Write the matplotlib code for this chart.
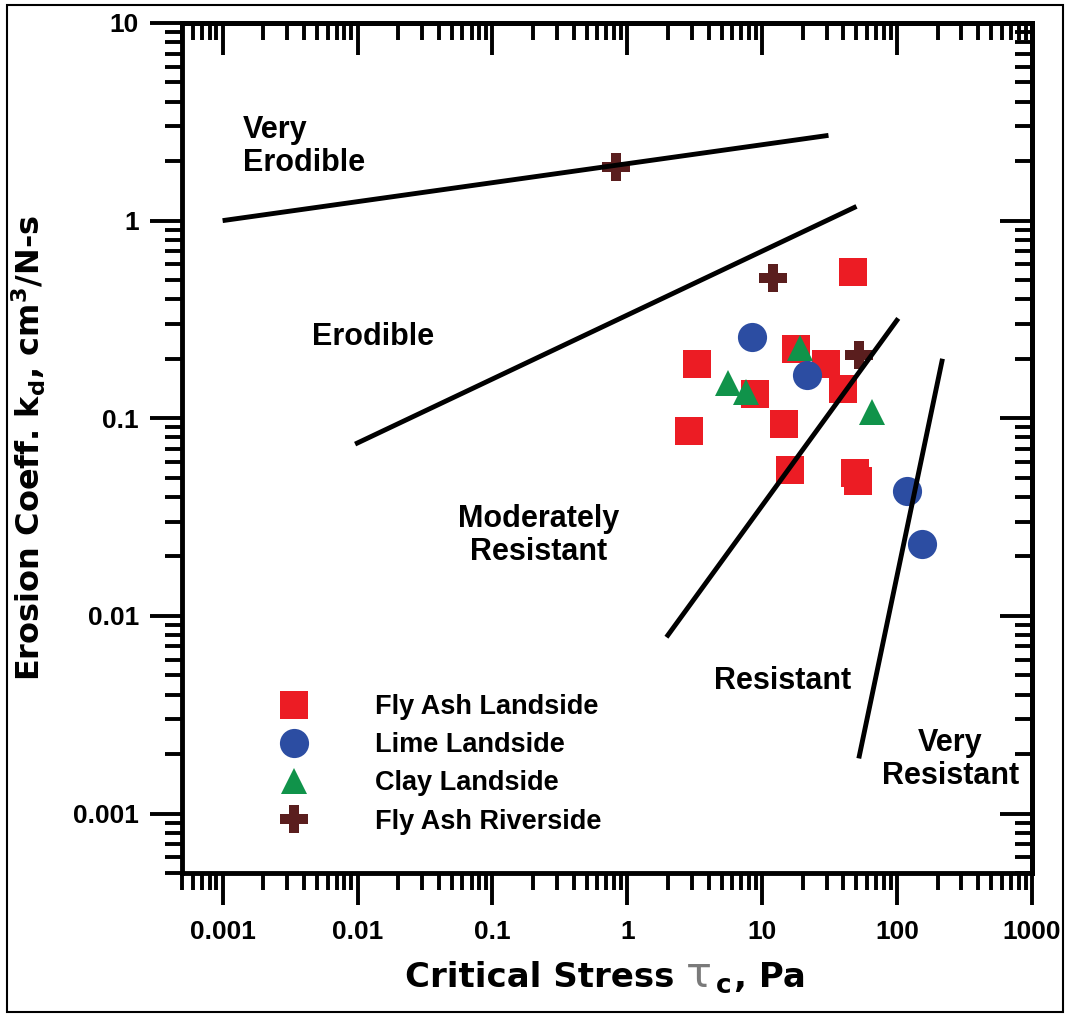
import numpy as np
import matplotlib
matplotlib.use("Agg")
import matplotlib.pyplot as plt
from matplotlib.ticker import LogLocator, NullFormatter
from matplotlib.patches import Rectangle

plt.rcParams['font.family'] = ['Liberation Sans', 'DejaVu Sans']
plt.rcParams['font.weight'] = 'bold'
plt.rcParams['mathtext.fontset'] = 'custom'
plt.rcParams['mathtext.rm'] = 'DejaVu Sans:bold'
plt.rcParams['mathtext.bf'] = 'DejaVu Sans:bold'
plt.rcParams['mathtext.it'] = 'DejaVu Sans:bold:italic'

# ---------------- data ----------------
fly_ash_land_tau = [47.5, 3.31, 17.9, 29.9, 39.4, 8.9, 14.6, 2.88, 16.2, 49.1, 51.7]
fly_ash_land_kd = [0.548, 0.189, 0.223, 0.189, 0.141, 0.132, 0.093, 0.0866, 0.055, 0.053, 0.0483]

lime_land_tau = [8.46, 21.6, 117.5, 154]
lime_land_kd = [0.257, 0.165, 0.043, 0.0232]

clay_land_tau = [19.2, 5.61, 7.63, 64.6]
clay_land_kd = [0.2256, 0.150, 0.135, 0.108]

fly_ash_river_tau = [0.83, 12.1, 52.6]
fly_ash_river_kd = [1.87, 0.511, 0.208]

# erodibility class boundaries (start, end)
boundary_tau = [[0.001, 31], [0.0096, 50], [1.95, 102], [52, 217]]
boundary_kd = [[1.0, 2.7], [0.074, 1.18], [0.0078, 0.32], [0.0019, 0.2]]

series_labels = ["Fly Ash Landside", "Lime Landside", "Clay Landside", "Fly Ash Riverside"]

x_ticks = [0.001, 0.01, 0.1, 1, 10, 100, 1000]
x_tick_labels = ["0.001", "0.01", "0.1", "1", "10", "100", "1000"]
y_ticks = [0.001, 0.01, 0.1, 1, 10]
y_tick_labels = ["0.001", "0.01", "0.1", "1", "10"]

# ---------------- figure ----------------
W, H = 1066, 1017
fig = plt.figure(figsize=(W / 100, H / 100), dpi=100)
ax = fig.add_axes([182 / W, 1 - 873 / H, 850 / W, 850 / H])
ax.set_xscale('log')
ax.set_yscale('log')

red = '#EC1C24'
blue = '#2C4DA2'
green = '#10934A'
brown = '#5A1E1E'

ax.plot(fly_ash_land_tau, fly_ash_land_kd, ls='none', marker='s', ms=20, mew=0,
        color=red, label=series_labels[0])
ax.plot(lime_land_tau, lime_land_kd, ls='none', marker='o', ms=21, mew=0,
        color=blue, label=series_labels[1])
ax.plot(clay_land_tau, clay_land_kd, ls='none', marker='^', ms=19, mew=0,
        color=green, label=series_labels[2])
ax.plot(fly_ash_river_tau, fly_ash_river_kd, ls='none', marker='P', ms=20, mew=0,
        color=brown, label=series_labels[3])

for bx, by in zip(boundary_tau, boundary_kd):
    ax.plot(bx, by, color='black', lw=3.5, solid_capstyle='butt')

ax.set_xlim(5e-4, 1000)
ax.set_ylim(5e-4, 10)

# ticks
ax.set_xticks(x_ticks, x_tick_labels)
ax.set_yticks(y_ticks, y_tick_labels)
ax.xaxis.set_minor_locator(LogLocator(base=10, subs=np.arange(2, 10), numticks=50))
ax.yaxis.set_minor_locator(LogLocator(base=10, subs=np.arange(2, 10), numticks=50))
ax.xaxis.set_minor_formatter(NullFormatter())
ax.yaxis.set_minor_formatter(NullFormatter())
ax.tick_params(which='major', direction='out', length=23, width=2.8, labelsize=19)
ax.tick_params(which='minor', direction='out', length=12, width=2.8)
ax.tick_params(axis='x', which='major', pad=11)
ax.tick_params(axis='y', which='major', pad=8)
for sp in ax.spines.values():
    sp.set_linewidth(3.5)

secx = ax.secondary_xaxis('top')
secx.set_xticks(x_ticks)
secx.xaxis.set_minor_locator(LogLocator(base=10, subs=np.arange(2, 10), numticks=50))
secx.xaxis.set_minor_formatter(NullFormatter())
secx.tick_params(which='major', direction='in', length=23, width=2.8, labeltop=False)
secx.tick_params(which='minor', direction='in', length=12, width=2.8)
secx.spines['top'].set_linewidth(3.5)

secy = ax.secondary_yaxis('right')
secy.set_yticks(y_ticks)
secy.yaxis.set_minor_locator(LogLocator(base=10, subs=np.arange(2, 10), numticks=50))
secy.yaxis.set_minor_formatter(NullFormatter())
secy.tick_params(which='major', direction='in', length=23, width=2.8, labelright=False)
secy.tick_params(which='minor', direction='in', length=12, width=2.8)
secy.spines['right'].set_linewidth(3.5)

# y label
ax.set_ylabel(r"Erosion Coeff. k$_\mathrm{d}$, cm$^\mathrm{3}$/N-s",
              family='DejaVu Sans', weight='bold', fontsize=23)
ax.yaxis.set_label_coords(-0.158, 0.5)

# region labels
lab_kw = dict(fontsize=22, weight='bold', linespacing=1.12)
ax.text(0.00142, 2.37, "Very\nErodible", ha='left', va='center', **lab_kw)
ax.text(0.0131, 0.257, "Erodible", ha='center', va='center', **lab_kw)
ax.text(0.219, 0.0256, "Moderately\nResistant", ha='center', va='center', **lab_kw)
ax.text(14.1, 0.00468, "Resistant", ha='center', va='center', **lab_kw)
ax.text(249, 0.00188, "Very\nResistant", ha='center', va='center', **lab_kw)

# legend
leg = ax.legend(loc='upper left', bbox_to_anchor=(0.1153, 0.2105), frameon=False,
                fontsize=19.5, borderpad=0, borderaxespad=0, handlelength=1.0,
                handletextpad=2.5, labelspacing=0.45, numpoints=1, markerscale=1)
for t in leg.get_texts():
    t.set_fontweight('bold')

# x label built from pieces (grey tau)
fig.canvas.draw()
r = fig.canvas.get_renderer()
parts = [
    ("Critical Stress", dict(family='DejaVu Sans', weight='bold', size=24.5, color='black'), 0, 12),
    ("\u03c4", dict(family='DejaVu Sans', weight='normal', size=31, color='#7a7a7a'), 0, 4),
    ("c", dict(family='DejaVu Sans', weight='bold', size=19, color='black'), -6, 2),
    (", Pa", dict(family='DejaVu Sans', weight='bold', size=24.5, color='black'), 0, 0),
]
base_y = 30
placed = []
xcur = 0.0
for s, kw, dy, gap in parts:
    t = fig.text(0, (base_y + dy) / H, s, ha='left', va='baseline', **kw)
    bb = t.get_window_extent(r)
    placed.append((t, xcur))
    xcur += bb.width + gap
start = 605 - xcur / 2
for t, x0 in placed:
    t.set_x((start + x0) / W)

# outer frame
fig.patches.append(Rectangle((7 / W, 5 / H), (1063 - 7) / W, (1012 - 5) / H,
                             transform=fig.transFigure, fill=False,
                             edgecolor='black', linewidth=1.5))

fig.savefig("out.png", dpi=100)
